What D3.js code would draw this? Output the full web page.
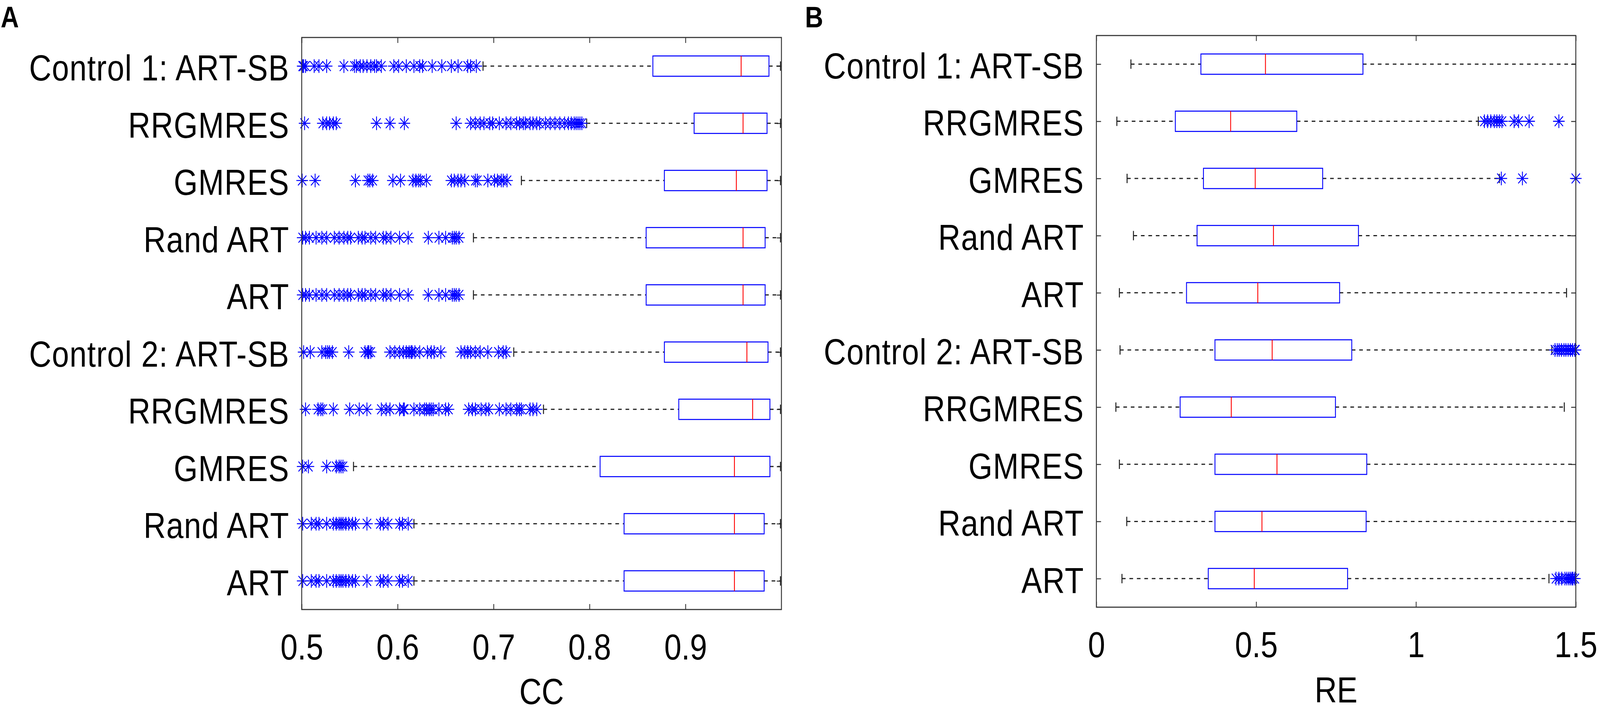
<!DOCTYPE html>
<html>
<head>
<meta charset="utf-8">
<script src="https://cdn.jsdelivr.net/npm/d3@7"></script>
<style>
  html, body { margin: 0; padding: 0; background: #fff; overflow: hidden; }
  svg { display: block; width: 100vw; height: 100vh; }
</style>
</head>
<body>
<div id="chart"></div>
<script>
// row labels, top to bottom
const categories = ["Control 1: ART-SB", "RRGMRES", "GMRES", "Rand ART", "ART",
  "Control 2: ART-SB", "RRGMRES", "GMRES", "Rand ART", "ART"];

// panel A: CC
const ccTicks = [0.5, 0.6, 0.7, 0.8, 0.9];
const ccTickLabels = ["0.5", "0.6", "0.7", "0.8", "0.9"];
const ccLow    = [0.689, 0.797, 0.729, 0.679, 0.679, 0.721, 0.752, 0.554, 0.617, 0.617];
const ccQ1     = [0.866, 0.909, 0.878, 0.859, 0.859, 0.878, 0.893, 0.811, 0.836, 0.836];
const ccMedian = [0.958, 0.960, 0.953, 0.960, 0.960, 0.964, 0.970, 0.951, 0.951, 0.951];
const ccQ3     = [0.987, 0.985, 0.985, 0.983, 0.983, 0.986, 0.988, 0.988, 0.982, 0.982];
const ccHigh   = [0.999, 0.999, 0.999, 0.999, 0.999, 0.999, 0.999, 0.999, 0.999, 0.999];
const ccOutliers = [
  [0.501, 0.502, 0.504, 0.513, 0.518, 0.526, 0.544, 0.555, 0.557, 0.561, 0.564, 0.568, 0.572, 0.576, 0.578,
   0.583, 0.596, 0.601, 0.609, 0.617, 0.623, 0.626, 0.636, 0.646, 0.656, 0.663, 0.673, 0.676, 0.682],
  [0.503, 0.522, 0.526, 0.529, 0.533, 0.536, 0.578, 0.592, 0.607, 0.661, 0.676, 0.681, 0.686, 0.690, 0.696,
   0.699, 0.706, 0.713, 0.718, 0.724, 0.727, 0.731, 0.733, 0.738, 0.741, 0.745, 0.748, 0.754, 0.759, 0.764,
   0.769, 0.774, 0.778, 0.781, 0.784, 0.786, 0.788, 0.790, 0.792],
  [0.5005, 0.514, 0.556, 0.569, 0.571, 0.574, 0.595, 0.603, 0.616, 0.619, 0.622, 0.624, 0.630, 0.656, 0.659,
   0.663, 0.666, 0.670, 0.681, 0.683, 0.694, 0.701, 0.704, 0.708, 0.710, 0.714],
  [0.501, 0.504, 0.508, 0.515, 0.521, 0.526, 0.534, 0.539, 0.544, 0.548, 0.551, 0.559, 0.563, 0.566, 0.572,
   0.577, 0.585, 0.588, 0.593, 0.602, 0.611, 0.632, 0.643, 0.650, 0.657, 0.659, 0.661, 0.664],
  [0.501, 0.504, 0.508, 0.515, 0.521, 0.526, 0.534, 0.539, 0.544, 0.548, 0.551, 0.559, 0.563, 0.566, 0.572,
   0.577, 0.585, 0.588, 0.593, 0.602, 0.611, 0.632, 0.643, 0.650, 0.657, 0.659, 0.661, 0.664],
  [0.502, 0.509, 0.521, 0.525, 0.527, 0.529, 0.532, 0.549, 0.566, 0.569, 0.570, 0.572, 0.592, 0.597, 0.602,
   0.606, 0.609, 0.612, 0.614, 0.615, 0.618, 0.623, 0.631, 0.635, 0.638, 0.645, 0.666, 0.670, 0.673, 0.676,
   0.681, 0.686, 0.694, 0.705, 0.710, 0.713],
  [0.504, 0.517, 0.520, 0.522, 0.533, 0.550, 0.560, 0.568, 0.583, 0.588, 0.592, 0.602, 0.606, 0.607, 0.617,
   0.623, 0.628, 0.630, 0.633, 0.635, 0.637, 0.643, 0.650, 0.653, 0.674, 0.678, 0.681, 0.687, 0.692, 0.695,
   0.706, 0.713, 0.718, 0.724, 0.727, 0.729, 0.738, 0.741, 0.745],
  [0.501, 0.507, 0.526, 0.536, 0.539, 0.541, 0.543],
  [0.501, 0.510, 0.515, 0.518, 0.526, 0.533, 0.536, 0.539, 0.541, 0.543, 0.546, 0.549, 0.553, 0.556, 0.568,
   0.582, 0.585, 0.590, 0.602, 0.605, 0.611],
  [0.501, 0.510, 0.515, 0.518, 0.526, 0.533, 0.536, 0.539, 0.541, 0.543, 0.546, 0.549, 0.553, 0.556, 0.568,
   0.582, 0.585, 0.590, 0.602, 0.605, 0.611]
];

// panel B: RE  (1.6 = whisker runs past the 1.5 axis limit)
const reTicks = [0, 0.5, 1, 1.5];
const reTickLabels = ["0", "0.5", "1", "1.5"];
const reLow    = [0.108, 0.064, 0.096, 0.116, 0.072, 0.074, 0.061, 0.072, 0.095, 0.080];
const reQ1     = [0.327, 0.247, 0.335, 0.315, 0.282, 0.371, 0.262, 0.371, 0.371, 0.350];
const reMedian = [0.529, 0.420, 0.497, 0.554, 0.505, 0.550, 0.422, 0.565, 0.518, 0.494];
const reQ3     = [0.834, 0.627, 0.708, 0.820, 0.761, 0.799, 0.748, 0.846, 0.844, 0.786];
const reHigh   = [1.6, 1.195, 1.261, 1.6, 1.471, 1.425, 1.464, 1.6, 1.6, 1.416];
const reOutliers = [
  [],
  [1.214, 1.224, 1.234, 1.245, 1.253, 1.261, 1.269, 1.307, 1.321, 1.354, 1.447],
  [1.267, 1.333, 1.5],
  [],
  [],
  [1.435, 1.442, 1.448, 1.455, 1.463, 1.469, 1.476, 1.483, 1.490, 1.497, 1.499],
  [],
  [],
  [],
  [1.438, 1.447, 1.456, 1.466, 1.472, 1.478, 1.483, 1.488, 1.491, 1.497]
];

const W = 4826, H = 1826;
const FONT = "'Liberation Sans', Arial, Helvetica, sans-serif";
const labelSize = 93;
const tickLen = 14;
const boxH = 52;
const capH = 24;
const starR = 17.5;

// the window can come out narrower than asked, so stretch the drawing to fill it
const svg = d3.select("#chart")
  .append("svg")
  .attr("viewBox", `0 0 ${W} ${H}`)
  .attr("preserveAspectRatio", "none");

function starPath(r) {
  const d = r * 0.72;
  return `M${-r},0H${r}M0,${-r}V${r}M${-d},${-d}L${d},${d}M${-d},${d}L${d},${-d}`;
}

function drawPanel(p) {
  const x = d3.scaleLinear().domain(p.domain).range([p.left, p.right]);
  const y = d3.scalePoint().domain(d3.range(categories.length))
    .range([p.top, p.bottom]).padding(0.5);
  const [xmin, xmax] = p.domain;

  const g = svg.append("g");

  // panel letter
  g.append("text")
    .attr("x", p.letterX).attr("y", 70)
    .attr("font-family", FONT).attr("font-weight", "bold")
    .attr("font-size", 76)
    .text(p.letter);

  // axes (inward ticks all round)
  const bottom = g.append("g")
    .attr("transform", `translate(0,${p.bottom})`)
    .call(d3.axisBottom(x).tickValues(p.ticks)
      .tickFormat((d, i) => p.tickLabels[i])
      .tickSizeInner(-tickLen).tickSizeOuter(0).tickPadding(62));

  const top = g.append("g")
    .attr("transform", `translate(0,${p.top})`)
    .call(d3.axisTop(x).tickValues(p.ticks).tickFormat("")
      .tickSizeInner(-tickLen).tickSizeOuter(0));

  const left = g.append("g")
    .attr("transform", `translate(${p.left},0)`)
    .call(d3.axisLeft(y).tickFormat(i => categories[i])
      .tickSizeInner(-tickLen).tickSizeOuter(0).tickPadding(37));

  const right = g.append("g")
    .attr("transform", `translate(${p.right},0)`)
    .call(d3.axisRight(y).tickFormat("")
      .tickSizeInner(-tickLen).tickSizeOuter(0));

  [bottom, top, left, right].forEach(a => {
    a.select(".domain").remove();
    a.attr("font-family", FONT).attr("font-size", labelSize).attr("color", "#000");
    a.selectAll(".tick line").attr("stroke", "#333").attr("stroke-width", 2.5);
  });
  left.selectAll(".tick text").attr("dy", "0.39em").attr("letter-spacing", 1.6);

  // axis title
  g.append("text")
    .attr("x", (p.left + p.right) / 2).attr("y", p.titleY)
    .attr("text-anchor", "middle")
    .attr("font-family", FONT).attr("font-size", labelSize)
    .text(p.title);

  const rows = d3.range(categories.length).map(i => ({
    i, low: p.low[i], q1: p.q1[i], med: p.median[i], q3: p.q3[i], high: p.high[i], out: p.outliers[i]
  }));

  const plot = g.append("g");

  // whiskers
  const wh = plot.append("g")
    .attr("stroke", "#222").attr("stroke-width", 3)
    .attr("stroke-dasharray", "11,11.5");
  wh.selectAll("line.lo").data(rows).join("line")
    .attr("class", "lo")
    .attr("x1", d => x(Math.max(d.low, xmin))).attr("x2", d => x(d.q1))
    .attr("y1", d => y(d.i)).attr("y2", d => y(d.i));
  wh.selectAll("line.hi").data(rows).join("line")
    .attr("class", "hi")
    .attr("x1", d => x(d.q3)).attr("x2", d => x(Math.min(d.high, xmax)))
    .attr("y1", d => y(d.i)).attr("y2", d => y(d.i));

  // whisker caps (only inside the axis range)
  const caps = rows.flatMap(d => [{ i: d.i, v: d.low }, { i: d.i, v: d.high }])
    .filter(c => c.v >= xmin && c.v <= xmax);
  plot.append("g").selectAll("line").data(caps).join("line")
    .attr("x1", d => x(d.v)).attr("x2", d => x(d.v))
    .attr("y1", d => y(d.i) - capH / 2).attr("y2", d => y(d.i) + capH / 2)
    .attr("stroke", "#222").attr("stroke-width", 3);

  // boxes
  plot.append("g").selectAll("rect").data(rows).join("rect")
    .attr("x", d => x(d.q1)).attr("width", d => x(d.q3) - x(d.q1))
    .attr("y", d => y(d.i) - boxH / 2).attr("height", boxH)
    .attr("fill", "none").attr("stroke", "#0000ff").attr("stroke-width", 2.6);

  // medians
  plot.append("g").selectAll("line").data(rows).join("line")
    .attr("x1", d => x(d.med)).attr("x2", d => x(d.med))
    .attr("y1", d => y(d.i) - boxH / 2).attr("y2", d => y(d.i) + boxH / 2)
    .attr("stroke", "#ff0000").attr("stroke-width", 2.6);

  // outliers
  const pts = rows.flatMap(d => d.out.map(v => ({ i: d.i, v })));
  plot.append("g").selectAll("path").data(pts).join("path")
    .attr("d", starPath(starR))
    .attr("transform", d => `translate(${x(d.v)},${y(d.i)})`)
    .attr("fill", "none").attr("stroke", "#0000ff").attr("stroke-width", 2.6);

  // axes box
  g.append("rect")
    .attr("x", p.left).attr("y", p.top)
    .attr("width", p.right - p.left).attr("height", p.bottom - p.top)
    .attr("fill", "none").attr("stroke", "#333").attr("stroke-width", 2.8);
}

drawPanel({
  letter: "A", letterX: 2, title: "CC", titleY: 1803,
  left: 910, right: 2357, top: 96, bottom: 1561,
  domain: [0.5, 1], ticks: ccTicks, tickLabels: ccTickLabels,
  low: ccLow, q1: ccQ1, median: ccMedian, q3: ccQ3, high: ccHigh, outliers: ccOutliers
});

drawPanel({
  letter: "B", letterX: 2428, title: "RE", titleY: 1799,
  left: 3307, right: 4753, top: 91, bottom: 1555,
  domain: [0, 1.5], ticks: reTicks, tickLabels: reTickLabels,
  low: reLow, q1: reQ1, median: reMedian, q3: reQ3, high: reHigh, outliers: reOutliers
});
</script>
</body>
</html>
